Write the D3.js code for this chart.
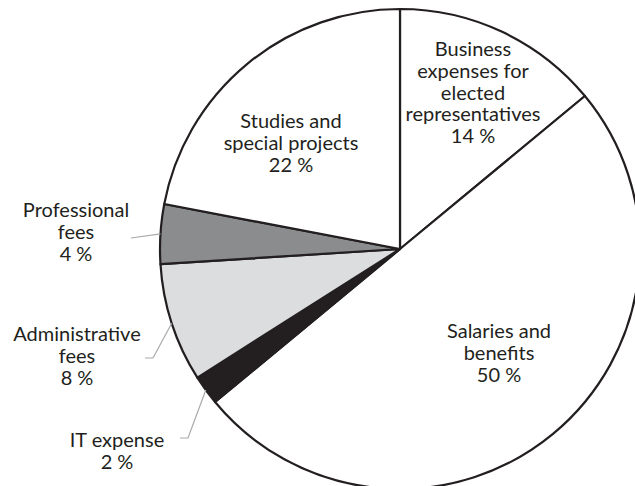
<!DOCTYPE html>
<html>
<head>
<meta charset="utf-8">
<script src="https://cdn.jsdelivr.net/npm/d3@7"></script>
<style>
  body { margin: 0; background: #fff; }
  text { font-family: "Lato", "Open Sans", sans-serif; font-size: 20px; fill: #231f20; }
</style>
</head>
<body>
<script>
// slices, clockwise from 12 o'clock
var categories = [
  ["Business", "expenses for", "elected", "representatives"],
  ["Salaries and", "benefits"],
  ["IT expense"],
  ["Administrative", "fees"],
  ["Professional", "fees"],
  ["Studies and", "special projects"]
];
var values = [14, 50, 2, 8, 4, 22];
var fills = ["#ffffff", "#ffffff", "#231f20", "#dcdddf", "#8b8c8e", "#ffffff"];

// label anchor (x center, first baseline) and leader hook
var labelPos = [
  {x: 473, y: 56, leader: false},
  {x: 499, y: 338, leader: false},
  {x: 117, y: 447, leader: true, hook: [180, 438, 188, 438]},
  {x: 77, y: 341, leader: true, hook: [145, 358, 153, 358]},
  {x: 76, y: 217, leader: true, hook: [131, 238, 131, 238]},
  {x: 291, y: 128, leader: false}
];

var width = 635, height = 486,
    cx = 400, cy = 249, radius = 240,
    lineH = 21.8;

var svg = d3.select("body").append("svg").attr("width", width).attr("height", height);
var g = svg.append("g").attr("transform", "translate(" + cx + "," + cy + ")");

var pie = d3.pie().sort(null).value(function(d){ return d; });
var arcs = pie(values);
var arc = d3.arc().innerRadius(0).outerRadius(radius);

g.selectAll("path")
  .data(arcs)
  .enter().append("path")
    .attr("d", arc)
    .attr("fill", function(d, i){ return fills[i]; })
    .attr("stroke", "#231f20")
    .attr("stroke-width", 2.2)
    .attr("stroke-linejoin", "round");

// leader lines
arcs.forEach(function(d, i){
  var p = labelPos[i];
  if (!p.leader) return;
  var mid = (d.startAngle + d.endAngle) / 2;
  var ex = cx + Math.sin(mid) * radius, ey = cy - Math.cos(mid) * radius;
  var h = p.hook;
  svg.append("polyline")
    .attr("points", [h[0], h[1], h[2], h[3], ex, ey].join(","))
    .attr("fill", "none")
    .attr("stroke", "#a7a9ac")
    .attr("stroke-width", 1.2);
});

// labels
categories.forEach(function(lines, i){
  var p = labelPos[i];
  var all = lines.concat([values[i] + " %"]);
  var t = svg.append("text").attr("text-anchor", "middle");
  all.forEach(function(s, k){
    t.append("tspan").attr("x", p.x).attr("y", p.y + k * lineH).text(s);
  });
});
</script>
</body>
</html>
